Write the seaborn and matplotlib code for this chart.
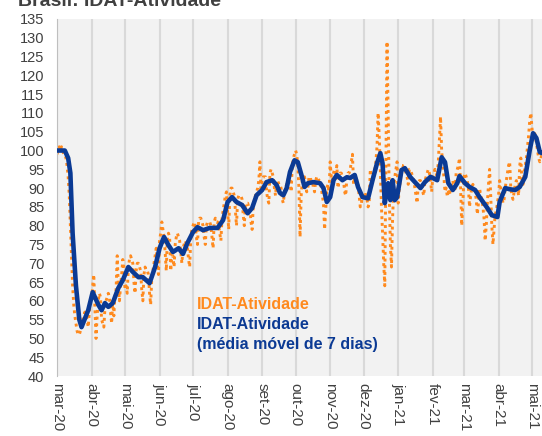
import pandas as pd
import matplotlib
matplotlib.use("Agg")
import matplotlib.pyplot as plt
import seaborn as sns

# === Data ===
# daily IDAT-Atividade, one list per month
idat_mar20 = [99, 100, 101, 100, 101, 100, 99, 99, 98, 96, 93, 88, 80, 72, 64, 59, 56, 54, 52, 51, 51,
              52, 53, 55, 56, 57, 56, 55, 53, 57, 60]
idat_abr20 = [60, 64, 67, 58, 50, 56, 60, 62, 61, 55, 54, 53, 58, 60, 61, 62, 61, 57, 54, 60, 56,
              62, 63, 72, 64, 60, 64, 67, 71, 69]
idat_mai20 = [63, 64, 62, 69, 71, 72, 71, 70, 65, 62, 68, 70, 70, 69, 68, 63, 60, 67, 69, 68, 68,
              67, 62, 59, 66, 68, 70, 72, 74, 70, 67]
idat_jun20 = [76, 78, 81, 79, 77, 73, 68, 77, 78, 77, 68, 72, 72, 69, 75, 77, 78, 77, 76, 73, 70,
              74, 75, 76, 75, 74, 71, 69, 77, 79]
idat_jul20 = [80, 81, 80, 77, 75, 81, 82, 82, 81, 80, 77, 75, 80, 81, 81, 81, 80, 77, 74, 81, 82,
              81, 81, 80, 78, 76, 82, 84, 86, 88, 89]
idat_ago20 = [84, 79, 88, 90, 90, 89, 88, 84, 80, 87, 88, 88, 88, 87, 83, 80, 86, 86, 86, 85, 85,
              81, 79, 85, 87, 88, 89, 90, 92, 97, 89]
idat_set20 = [92, 93, 93, 93, 89, 87, 86, 94, 95, 94, 93, 90, 88, 92, 92, 91, 91, 90, 87, 86, 89,
              90, 91, 92, 93, 92, 89, 96, 98, 99]
idat_out20 = [100, 99, 96, 90, 77, 88, 92, 93, 93, 91, 89, 90, 93, 93, 92, 92, 90, 89, 92, 93, 93,
              92, 92, 90, 88, 86, 79, 84, 90, 91, 89]
idat_nov20 = [97, 93, 92, 94, 95, 94, 96, 90, 92, 94, 94, 93, 92, 89, 88, 93, 94, 94, 95, 97, 99,
              91, 93, 93, 92, 91, 88, 85, 86, 88]
idat_dez20 = [87, 89, 88, 87, 85, 86, 95, 93, 92, 94, 95, 97, 101, 110, 104, 95, 85, 78, 70, 64, 95,
              129, 110, 88, 75, 69, 82, 90, 93, 95, 97]
idat_jan21 = [86, 90, 92, 96, 96, 95, 95, 94, 93, 91, 95, 95, 94, 93, 92, 90, 88, 86, 91, 92, 92,
              91, 89, 88, 92, 93, 94, 95, 94, 92, 89]
idat_fev21 = [93, 94, 95, 94, 93, 97, 103, 109, 100, 96, 93, 89, 90, 88, 89, 88, 90, 91, 92, 90, 89,
              94, 95, 96, 98, 90, 80, 86]
idat_mar21 = [93, 94, 93, 92, 90, 85, 88, 90, 91, 90, 89, 87, 83, 86, 90, 88, 87, 85, 82, 76, 80,
              86, 91, 95, 88, 80, 75, 79, 83, 84, 86]
idat_abr21 = [88, 92, 90, 88, 86, 87, 90, 92, 94, 96, 97, 90, 88, 87, 89, 91, 92, 90, 88, 96, 98,
              92, 91, 94, 96, 98, 101, 104, 108, 110]
idat_mai21 = [106, 103, 105, 104, 102, 100, 98, 97, 98, 99]

# 7-day moving average
mm7_dates = ['2020-03-01', '2020-03-08', '2020-03-11', '2020-03-13', '2020-03-15', '2020-03-18',
             '2020-03-21', '2020-03-23', '2020-03-29', '2020-04-02', '2020-04-07', '2020-04-10',
             '2020-04-13', '2020-04-16', '2020-04-20', '2020-04-25', '2020-04-29', '2020-05-04',
             '2020-05-08', '2020-05-13', '2020-05-17', '2020-05-23', '2020-05-28', '2020-06-01',
             '2020-06-05', '2020-06-09', '2020-06-13', '2020-06-18', '2020-06-22', '2020-06-26',
             '2020-07-01', '2020-07-05', '2020-07-10', '2020-07-16', '2020-07-23', '2020-07-28',
             '2020-08-01', '2020-08-05', '2020-08-09', '2020-08-14', '2020-08-19', '2020-08-23',
             '2020-08-27', '2020-09-01', '2020-09-05', '2020-09-10', '2020-09-14', '2020-09-17',
             '2020-09-20', '2020-09-23', '2020-09-26', '2020-09-30', '2020-10-03', '2020-10-07',
             '2020-10-09', '2020-10-12', '2020-10-17', '2020-10-23', '2020-10-26', '2020-10-29',
             '2020-11-01', '2020-11-04', '2020-11-07', '2020-11-12', '2020-11-16', '2020-11-19',
             '2020-11-23', '2020-11-26', '2020-11-30', '2020-12-05', '2020-12-09', '2020-12-13',
             '2020-12-16', '2020-12-18', '2020-12-20', '2020-12-23', '2020-12-25', '2020-12-27',
             '2020-12-29', '2020-12-31', '2021-01-04', '2021-01-07', '2021-01-12', '2021-01-16',
             '2021-01-21', '2021-01-25', '2021-01-30', '2021-02-05', '2021-02-09', '2021-02-12',
             '2021-02-15', '2021-02-19', '2021-02-23', '2021-02-25', '2021-03-02', '2021-03-06',
             '2021-03-11', '2021-03-15', '2021-03-22', '2021-03-26', '2021-03-31', '2021-04-02',
             '2021-04-07', '2021-04-11', '2021-04-16', '2021-04-20', '2021-04-25', '2021-04-29',
             '2021-05-02', '2021-05-05', '2021-05-08', '2021-05-10']
mm7_values = [100, 100, 98, 94, 78, 64,
              55, 53, 57.5, 62.3, 59, 57.5,
              59.4, 58.4, 59.4, 63.4, 65.5, 69,
              67.7, 66.3, 66.3, 64.7, 69, 74,
              77, 74.8, 73, 74, 72.5, 75.4,
              78.3, 79.6, 78.8, 79.4, 79.4, 81.5,
              86.3, 87.6, 86.3, 85.5, 83.3, 84.7,
              88.1, 89.5, 91.6, 92.1, 90.8, 88.7,
              88.1, 90, 94.3, 97.4, 96.9, 92.7,
              90.3, 91.3, 91.6, 91.3, 90, 86.3,
              87.6, 92.1, 93.5, 92.1, 92.9, 92.7,
              93.5, 90.3, 87.6, 87.3, 92.1, 96.6,
              99.3, 96.6, 86, 91.3, 86.8, 92.1,
              86.8, 87.6, 94.8, 95.3, 92.9, 91.6,
              90, 91.6, 93, 92.1, 98.2, 96.9,
              91.3, 89.5, 91.3, 93.2, 91.3, 90.3,
              89.5, 87.6, 84.7, 82.8, 82.3, 86.3,
              90, 89.7, 89.5, 90.3, 93, 100.1,
              104.6, 103.3, 99.6, 99.3]

month_labels = ['mar-20', 'abr-20', 'mai-20', 'jun-20', 'jul-20', 'ago-20', 'set-20', 'out-20',
                'nov-20', 'dez-20', 'jan-21', 'fev-21', 'mar-21', 'abr-21', 'mai-21']
y_ticks = list(range(40, 136, 5))

# === Build frames ===
idat_values = (idat_mar20 + idat_abr20 + idat_mai20 + idat_jun20 + idat_jul20 + idat_ago20
               + idat_set20 + idat_out20 + idat_nov20 + idat_dez20 + idat_jan21 + idat_fev21
               + idat_mar21 + idat_abr21 + idat_mai21)
daily = pd.DataFrame({'data': pd.date_range('2020-03-01', periods=len(idat_values), freq='D'),
                      'idat': idat_values})
mm7 = pd.DataFrame({'data': pd.to_datetime(mm7_dates), 'idat': mm7_values})

# === Style ===
sns.set_theme(style="white")
plt.rcParams['font.family'] = ['Liberation Sans', 'DejaVu Sans']

orange = '#FF8A1E'
blue = '#0B3A94'
text_gray = '#404040'

fig = plt.figure(figsize=(5.42, 4.36), dpi=100)
ax = fig.add_axes([57 / 542, 60 / 436, 485 / 542, 357 / 436])
ax.set_facecolor('#F2F2F2')

sns.lineplot(data=daily, x='data', y='idat', ax=ax, color=orange, linewidth=2.1,
             linestyle=(0, (1.0, 1.3)), zorder=2)
sns.lineplot(data=mm7, x='data', y='idat', ax=ax, color=blue, linewidth=3.3,
             solid_joinstyle='round', solid_capstyle='round', zorder=3)

# === Axes ===
ax.set_xlim(pd.Timestamp('2020-03-01'), pd.Timestamp('2021-05-10'))
ax.set_ylim(40, 135)
ax.set_yticks(y_ticks)
ax.set_yticklabels([str(v) for v in y_ticks], fontsize=10.5, color=text_gray)
month_ticks = pd.date_range('2020-03-01', periods=len(month_labels), freq='MS')
ax.set_xticks(month_ticks)
ax.set_xticklabels(month_labels, rotation=-90, fontsize=11, color=text_gray,
                   ha='center', va='top')
ax.tick_params(axis='both', length=0)
ax.tick_params(axis='y', pad=9)
ax.tick_params(axis='x', pad=5)
ax.set_xlabel('')
ax.set_ylabel('')

ax.grid(axis='x', color='#D9D9D9', linewidth=1.5)
ax.grid(axis='y', visible=False)
ax.set_axisbelow(True)
for side in ['top', 'right', 'bottom']:
    ax.spines[side].set_visible(False)
ax.spines['left'].set_color('#BFBFBF')
ax.spines['left'].set_linewidth(0.8)

# === Inline legend ===
ax.text(0.289, 0.199, 'IDAT-Atividade', transform=ax.transAxes, color=orange,
        fontsize=11.5, fontweight='bold', va='center', ha='left')
ax.text(0.289, 0.143, 'IDAT-Atividade', transform=ax.transAxes, color=blue,
        fontsize=11.5, fontweight='bold', va='center', ha='left')
ax.text(0.289, 0.087, '(média móvel de 7 dias)', transform=ax.transAxes, color=blue,
        fontsize=11.5, fontweight='bold', va='center', ha='left')

# === Title (cut at the top edge, as in the source) ===
fig.text(18 / 542, 1 - 6 / 436, 'Brasil: IDAT-Atividade', fontsize=14, fontweight='bold',
         color=text_gray, ha='left', va='baseline')

fig.savefig('out.png', dpi=100)
plt.close(fig)
